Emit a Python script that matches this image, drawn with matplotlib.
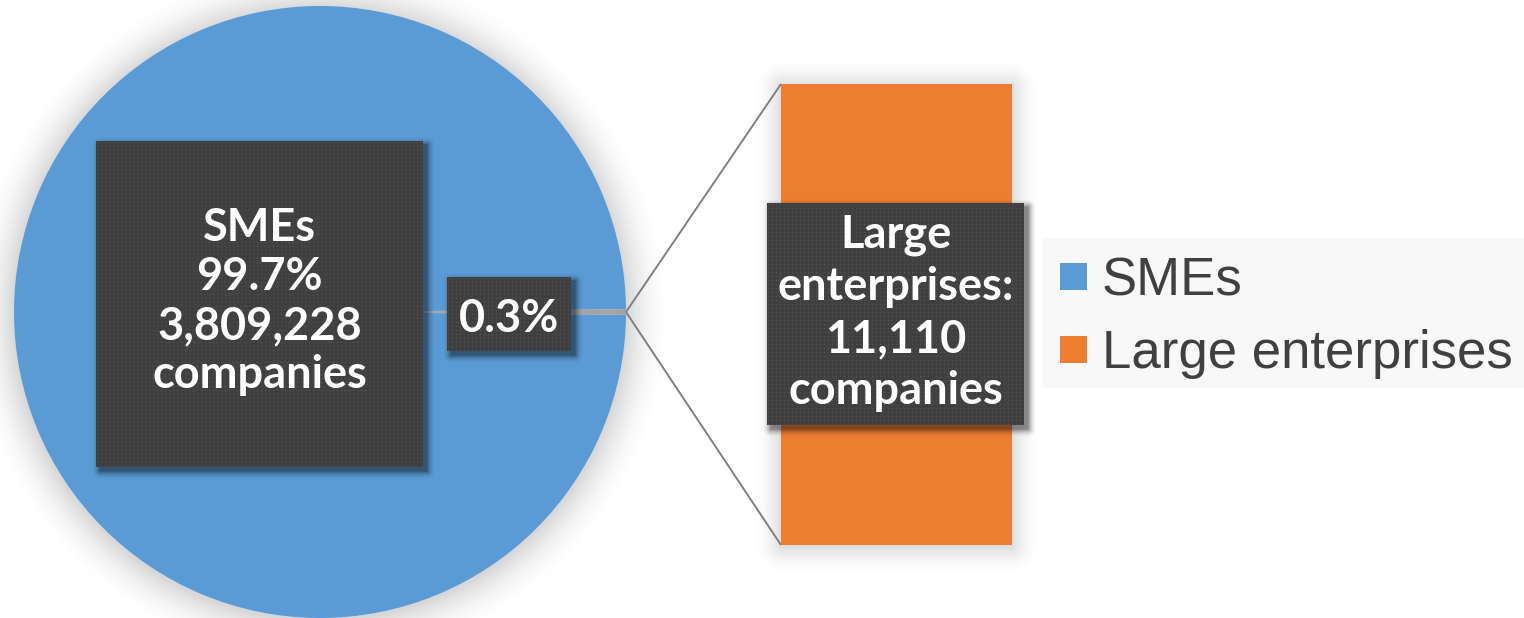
import numpy as np
import matplotlib
matplotlib.use("Agg")
import matplotlib.pyplot as plt
from matplotlib.patches import Rectangle

# --- data ---------------------------------------------------------------
categories = ["SMEs", "Large enterprises"]
companies = [3809228, 11110]
colors = ["#5B9BD5", "#ED7D31"]
other_color = "#A5A5A5"

W, H = 1524, 618
DPI = 100

total = sum(companies)
shares = [c / total * 100 for c in companies]

fig = plt.figure(figsize=(W / DPI, H / DPI), dpi=DPI)
fig.patch.set_facecolor("white")

# main canvas in pixel units (y grows downward)
ax = fig.add_axes([0, 0, 1, 1])
ax.set_xlim(0, W)
ax.set_ylim(H, 0)
ax.set_aspect("equal")
ax.axis("off")
ax.set_autoscale_on(False)

# pie geometry
cx, cy, r = 320, 312, 306
# secondary bar geometry (pixels)
bx0, bx1, by0, by1 = 781, 1012, 84, 545

# --- soft shadows under the pie and the bar -----------------------------
yy, xx = np.mgrid[0:H, 0:W] + 0.5


def rect_dist(x0, y0, x1, y1):
    dx = np.maximum(np.maximum(x0 - xx, xx - x1), 0)
    dy = np.maximum(np.maximum(y0 - yy, yy - y1), 0)
    return np.hypot(dx, dy)


def falloff(d, width, a0):
    return a0 * np.clip(1 - d / width, 0, 1) ** 2


d_circ = np.maximum(np.hypot(xx - cx, yy - (cy + 2)) - r, 0)
d_bar = rect_dist(bx0, by0 + 2, bx1, by1 + 2)
alpha_bg = np.maximum(falloff(d_circ, 48, 0.16), falloff(d_bar, 30, 0.13))
shadow_bg = np.zeros((H, W, 4))
shadow_bg[..., 3] = alpha_bg
ax.imshow(shadow_bg, extent=(0, W, H, 0), zorder=0, interpolation="bilinear")

# --- pie: SMEs plus the small "other" slice centred on the right --------
theta_other = 360 * companies[1] / total
wedges, _ = ax.pie(
    companies,
    colors=[colors[0], other_color],
    startangle=theta_other / 2,
    center=(cx, cy),
    radius=r,
    wedgeprops=dict(linewidth=0),
    frame=True,
)
for w in wedges:
    w.set_zorder(2)
ax.set_xlim(0, W)
ax.set_ylim(H, 0)
ax.axis("off")

# --- secondary bar -------------------------------------------------------
ax_bar = fig.add_axes([bx0 / W, (H - by1) / H, (bx1 - bx0) / W, (by1 - by0) / H])
ax_bar.bar(0, companies[1], width=1.0, color=colors[1], linewidth=0)
ax_bar.set_xlim(-0.5, 0.5)
ax_bar.set_ylim(0, companies[1])
ax_bar.axis("off")

# connector lines from the pie edge to the bar corners
fig.canvas.draw()
to_px = ax.transData.inverted()
top_corner = to_px.transform(ax_bar.transData.transform((-0.5, companies[1])))
bot_corner = to_px.transform(ax_bar.transData.transform((-0.5, 0)))
edge = (cx + r, cy)
for corner in (top_corner, bot_corner):
    ax.plot([edge[0], corner[0]], [edge[1], corner[1]],
            color="#808080", lw=1.4, zorder=3, solid_capstyle="butt")

# --- overlay for data labels and legend ---------------------------------
top = fig.add_axes([0, 0, 1, 1])
top.set_xlim(0, W)
top.set_ylim(H, 0)
top.axis("off")
top.patch.set_alpha(0)
top.set_autoscale_on(False)

label_font = dict(family=["Lato", "DejaVu Sans"], weight="bold",
                  size=32.5, color="white")

boxes = [
    # (x0, y0, x1, y1, text lines, first baseline, pitch)
    (96, 141, 423, 467,
     [categories[0], f"{shares[0]:.1f}%", f"{companies[0]:,}", "companies"],
     241, 49),
    (447, 277, 571, 351, [f"{shares[1]:.1f}%"], 332, 49),
    (767, 203, 1024, 425,
     ["Large", "enterprises:", f"{companies[1]:,}", "companies"],
     247, 52.5),
]

# shadows beneath the label boxes
alpha_lab = np.zeros((H, W))
for x0, y0, x1, y1, *_ in boxes:
    d = rect_dist(x0 + 4, y0 + 4, x1 + 4, y1 + 4)
    alpha_lab = np.maximum(alpha_lab, falloff(d, 9, 0.45))
shadow_lab = np.zeros((H, W, 4))
shadow_lab[..., 3] = alpha_lab
top.imshow(shadow_lab, extent=(0, W, H, 0), zorder=1, interpolation="bilinear")

for x0, y0, x1, y1, lines, base, pitch in boxes:
    h, w = y1 - y0, x1 - x0
    tex = np.full((h, w, 3), 0x40 / 255)
    jj, ii = np.meshgrid(np.arange(w), np.arange(h))
    dots = (ii % 4 == 1) & (jj % 4 == 1)
    tex[dots] = 0x55 / 255
    top.imshow(tex, extent=(x0, x1, y1, y0), zorder=2, interpolation="nearest")
    xc = (x0 + x1) / 2
    for k, line in enumerate(lines):
        top.text(xc, base + k * pitch, line, ha="center", va="baseline",
                 zorder=3, **label_font)

# legend panel
top.add_patch(Rectangle((1042, 238), W - 1042, 150, facecolor="#F8F8F8",
                        edgecolor="none", zorder=1))
leg_base = [295, 368]
for k, (name, col) in enumerate(zip(categories, colors)):
    yb = leg_base[k]
    top.add_patch(Rectangle((1060, yb - 32), 27, 27, facecolor=col,
                            edgecolor="none", zorder=2))
    top.text(1102, yb, name, ha="left", va="baseline", color="#404040",
             family=["Liberation Sans", "DejaVu Sans"], size=38, zorder=3)

top.set_xlim(0, W)
top.set_ylim(H, 0)

fig.savefig("out.png", dpi=DPI, facecolor="white")
